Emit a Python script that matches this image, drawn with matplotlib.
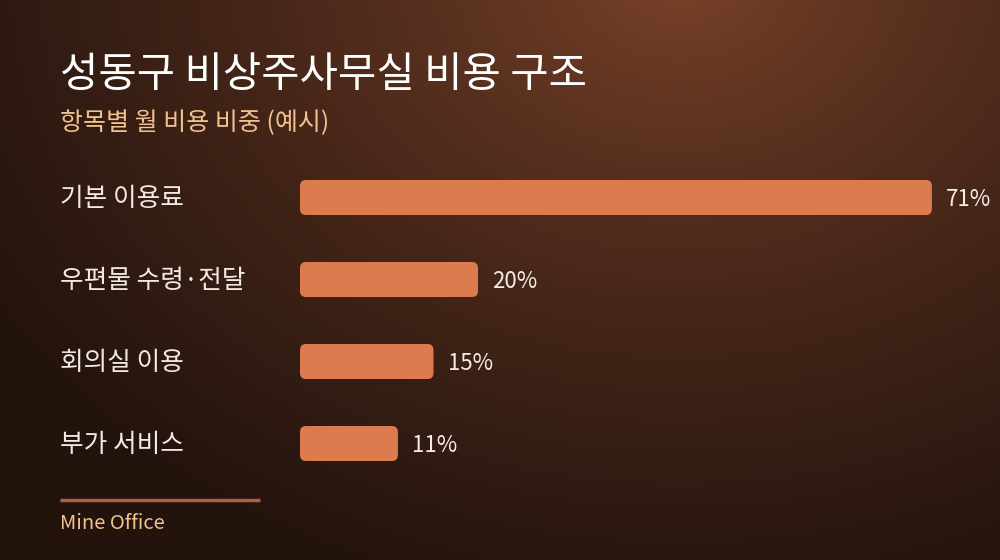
import numpy as np
import matplotlib
matplotlib.use("Agg")
import matplotlib.pyplot as plt
from matplotlib.patches import FancyBboxPatch
from matplotlib.colors import to_rgb

plt.rcParams['font.family'] = ['Noto Sans CJK KR', 'DejaVu Sans']

# ---- data ----
title = "성동구 비상주사무실 비용 구조"
subtitle = "항목별 월 비용 비중 (예시)"
categories = ["기본 이용료", "우편물 수령·전달", "회의실 이용", "부가 서비스"]
values = [71, 20, 15, 11]
value_labels = ["71%", "20%", "15%", "11%"]
source = "Mine Office"

W, H = 1000, 560
fig = plt.figure(figsize=(W / 100, H / 100), dpi=100)

# ---- background radial gradient ----
bg = fig.add_axes([0, 0, 1, 1])
yy, xx = np.mgrid[0:H, 0:W]
cx, cy = 680, -30
d = np.sqrt((xx - cx) ** 2 + ((yy - cy) * 1.25) ** 2)
t = np.clip(d / 820.0, 0, 1) ** 0.75
c0 = np.array(to_rgb("#7e442b"))
c1 = np.array(to_rgb("#22130d"))
img = c0[None, None, :] * (1 - t[..., None]) + c1[None, None, :] * t[..., None]
bg.imshow(img, extent=[0, W, H, 0], aspect='auto', interpolation='bilinear')
bg.set_xlim(0, W)
bg.set_ylim(H, 0)
bg.axis('off')

def fx(px):
    return px / W

def fy(py):
    return 1 - py / H

# ---- titles ----
fig.text(fx(60), fy(87), title, color="white", fontsize=30,
         fontweight='medium', va='baseline', ha='left')
fig.text(fx(60), fy(130), subtitle, color="#f1c18e", fontsize=18,
         va='baseline', ha='left')

# ---- bar axes ----
px_per_unit = 8.9
slot = 82.0
top_px = 197.5 - slot / 2
bot_px = top_px + slot * len(categories)
left_px = 300
ax = fig.add_axes([fx(left_px), fy(bot_px), fx(W - left_px), (bot_px - top_px) / H])
ax.set_xlim(0, (W - left_px) / px_per_unit)
ax.set_ylim(len(categories) - 0.5, -0.5)
ax.axis('off')
ax.patch.set_alpha(0)

bar_h = 35 / slot
radius_px = 6
for i, (v, lab) in enumerate(zip(values, value_labels)):
    p = FancyBboxPatch((0, i - bar_h / 2), v, bar_h,
                       boxstyle=f"round,pad=0,rounding_size={radius_px / px_per_unit}",
                       mutation_aspect=px_per_unit / slot,
                       facecolor="#dc7b4d", edgecolor='none')
    ax.add_patch(p)
    ax.annotate(lab, xy=(v, i), xytext=(14, 0), textcoords='offset pixels',
                color="#f5ece6", fontsize=16, va='center_baseline', ha='left')
    fig.text(fx(60), fy(196.5 + slot * i), categories[i], color="#f3e9e3",
             fontsize=18.5, va='center_baseline', ha='left')

# ---- footer ----
bg.plot([60, 260], [500, 500], color="#b0603e", lw=2.5, solid_capstyle='butt')
fig.text(fx(60), fy(529), source, color="#f1c18e", fontsize=14.5,
         va='baseline', ha='left')

fig.savefig("out.png", dpi=100)
